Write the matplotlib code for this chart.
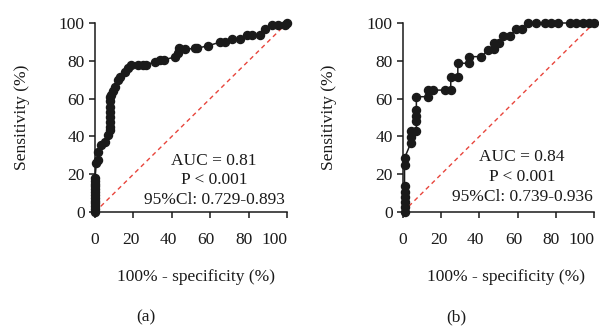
import matplotlib
matplotlib.use("Agg")
import matplotlib.pyplot as plt
from matplotlib.transforms import ScaledTranslation

plt.rcParams['font.family'] = ['Liberation Serif', 'DejaVu Serif']

# ---- data ----
fpr_a = [0, 0, 0, 0, 0, 0, 0, 0, 0, 0, 0, 0, 0, 0.7, 1.5, 1.6, 3.3, 5, 6.8, 7.6,
         7.8, 7.8, 7.8, 7.8, 7.8, 7.8, 7.8, 8.5, 9.5, 10.2, 12, 12.8, 15.4, 17.2,
         18.9, 22.4, 25, 26.7, 31, 33.7, 36, 41.7, 43.2, 44, 46.7, 51.9, 53, 59,
         65, 67.7, 71.2, 75.5, 79, 81.6, 86, 88.5, 92, 95.5, 99, 100]
tpr_a = [0, 1.5, 3, 4.5, 6, 7.5, 9, 10.5, 12, 13.5, 15, 16.5, 18, 25.8, 27.5, 32,
         35.4, 37.2, 40.7, 43.4, 45, 47.8, 50.4, 53, 55.5, 58.5, 61, 62, 64, 66.3,
         69.8, 71.6, 74.2, 76, 77.8, 77.8, 77.8, 77.8, 79.5, 80.4, 80.6, 82, 84,
         86.6, 86, 86.6, 86.6, 88, 89.8, 89.8, 91.5, 91.5, 93.6, 93.6, 93.6, 97,
         99, 99, 99, 100]

fpr_b = [0.8, 0.8, 0.8, 0.8, 0.8, 0.8, 0.8, 0.8, 4, 4, 4, 7, 7, 7, 7, 7, 13, 13,
         15.7, 21.8, 25, 25, 28.7, 28.7, 34.8, 34.8, 41, 44.5, 47.5, 47.5, 50,
         52.5, 56, 59, 62.5, 65.4, 69.8, 74.2, 77.6, 81.1, 87.2, 90.7, 94.1, 97.6,
         100]
tpr_b = [0, 2.8, 5.5, 8, 10.7, 14, 25, 28.5, 36.3, 39.8, 42.8, 42.8, 48, 51, 54,
         61, 61, 64.5, 64.5, 64.5, 64.5, 71.6, 71.6, 78.7, 78.7, 82.2, 82.2, 85.7,
         86.5, 89.6, 89.6, 93, 93, 96.7, 96.7, 100, 100, 100, 100, 100, 100, 100,
         100, 100, 100]

tick_values = [0, 20, 40, 60, 80, 100]
tick_labels = ["0", "20", "40", "60", "80", "100"]

stats_a = ["AUC = 0.81", "P < 0.001", "95%Cl: 0.729-0.893"]
stats_b = ["AUC = 0.84", "P < 0.001", "95%Cl: 0.739-0.936"]

W, H = 599, 330
fig = plt.figure(figsize=(W / 100, H / 100), dpi=100)

FS = 12.5
# horizontal pixel shifts of x tick labels seen in the reference
label_shift_px = [0, -2.7, -3.8, -4.2, -4.6, -12.5]


def px(x, y):
    return x / W, 1 - y / H


def make_axes(x0, x1, y0, y1):
    return fig.add_axes([x0 / W, 1 - y1 / H, (x1 - x0) / W, (y1 - y0) / H])


panels = [
    (make_axes(95, 287, 23, 212), fpr_a, tpr_a, stats_a, 214, [161, 180, 200], 196, "(a)", 146),
    (make_axes(403, 594, 23, 212), fpr_b, tpr_b, stats_b, 522, [157, 177, 197], 506, "(b)", 456),
]

for ax, fx, ty, stats, tx, tys, xlx, tag, tagx in panels:
    ax.plot([0, 100], [0, 100], color='#e8453c', lw=1.0, dashes=(3.2, 2.6), zorder=1)
    ax.plot(fx, ty, color='#1a1a1a', lw=1.1, marker='o', ms=5.8,
            markerfacecolor='#1a1a1a', markeredgecolor='#1a1a1a', clip_on=False, zorder=3)
    ax.set_xlim(0, 100)
    ax.set_ylim(0, 100)
    for s in ['top', 'right']:
        ax.spines[s].set_visible(False)
    for s in ['left', 'bottom']:
        ax.spines[s].set_linewidth(1.1)
        ax.spines[s].set_color('#1a1a1a')
    ax.set_yticks(tick_values)
    ax.set_yticklabels(tick_labels, fontsize=FS)
    ax.set_xticks(tick_values)
    ax.set_xticklabels(tick_labels, fontsize=FS)
    ax.tick_params(axis='both', which='major', direction='out', length=4.5, width=1.1,
                   color='#1a1a1a', labelsize=FS, pad=3, labelcolor='#1a1a1a')
    ax.tick_params(axis='x', pad=10)
    for lab, dx in zip(ax.get_xticklabels(), label_shift_px):
        lab.set_transform(lab.get_transform() + ScaledTranslation(dx / 100, 0, fig.dpi_scale_trans))
    for i, line in enumerate(stats):
        fig.text(*px(tx, tys[i]), line, ha='center', va='center', fontsize=FS, color='#1a1a1a')
    fig.text(*px(xlx, 277), "100% - specificity (%)", ha='center', va='center',
             fontsize=FS, color='#1a1a1a')
    fig.text(*px(tagx, 317), tag, ha='center', va='center', fontsize=FS, color='#1a1a1a')
    ax.set_ylabel("Sensitivity (%)", fontsize=FS, color='#1a1a1a')

panels[0][0].yaxis.set_label_coords(-(95 - 30) / 192, 0.5)
panels[1][0].yaxis.set_label_coords(-(403 - 337) / 191, 0.5)

fig.savefig("out.png", dpi=100)
